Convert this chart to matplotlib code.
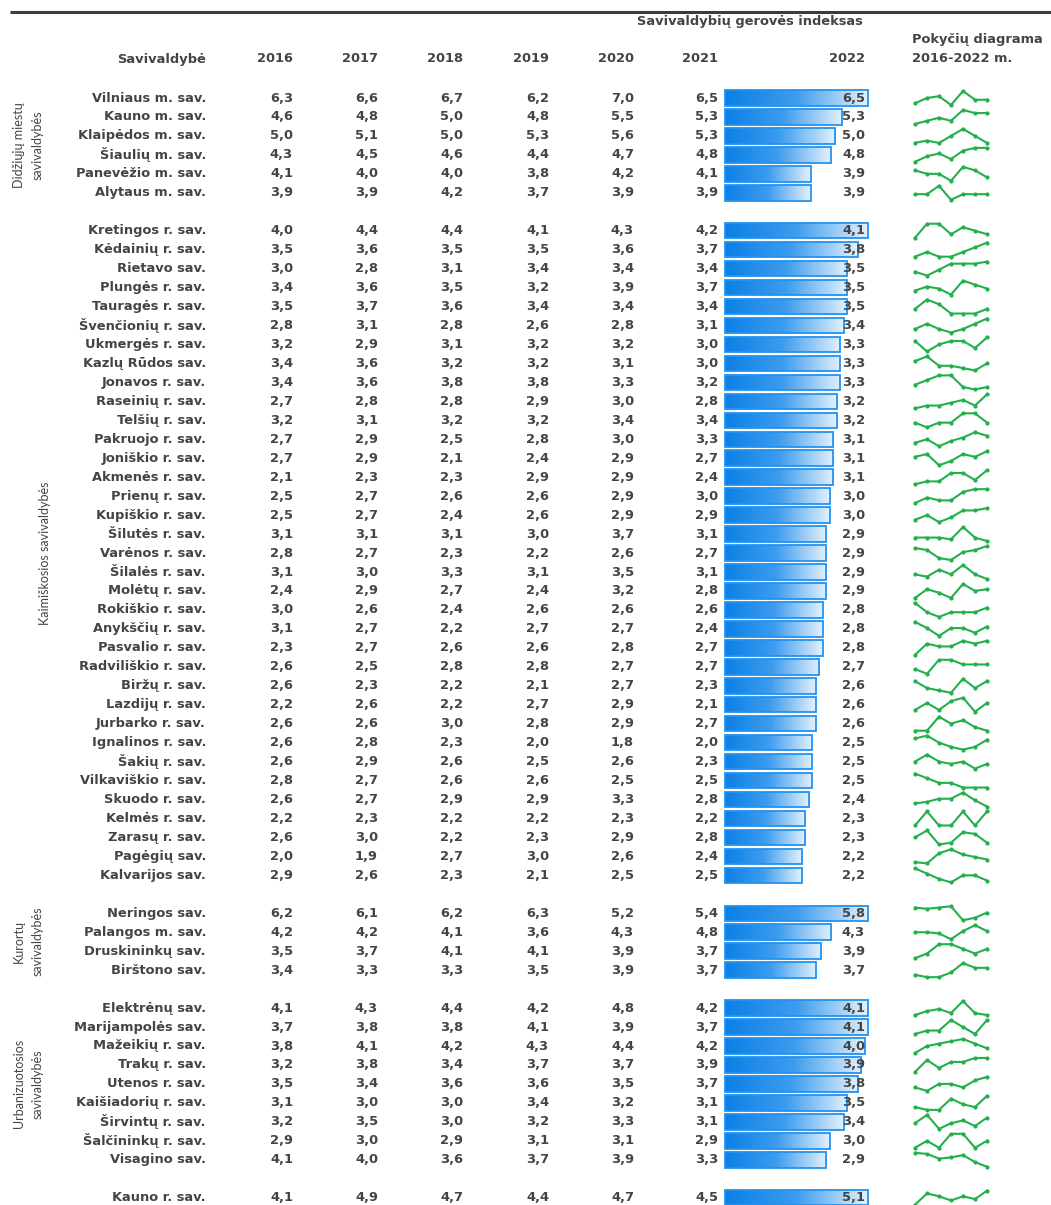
import numpy as np
import matplotlib
matplotlib.use("Agg")
import matplotlib.pyplot as plt
from matplotlib.colors import LinearSegmentedColormap

plt.rcParams['font.family'] = ['DejaVu Sans']

years = ["2016", "2017", "2018", "2019", "2020", "2021", "2022"]

# group labels (None = no label)
group_labels = [
    ["Didžiųjų miestų", "savivaldybės"],
    ["Kaimiškosios savivaldybės"],
    ["Kurortų", "savivaldybės"],
    ["Urbanizuotosios", "savivaldybės"],
    None,
]

big_cities_names = ["Vilniaus m. sav.", "Kauno m. sav.", "Klaipėdos m. sav.",
                    "Šiaulių m. sav.", "Panevėžio m. sav.", "Alytaus m. sav."]
big_cities_vals = [
    [6.3, 6.6, 6.7, 6.2, 7.0, 6.5, 6.5],
    [4.6, 4.8, 5.0, 4.8, 5.5, 5.3, 5.3],
    [5.0, 5.1, 5.0, 5.3, 5.6, 5.3, 5.0],
    [4.3, 4.5, 4.6, 4.4, 4.7, 4.8, 4.8],
    [4.1, 4.0, 4.0, 3.8, 4.2, 4.1, 3.9],
    [3.9, 3.9, 4.2, 3.7, 3.9, 3.9, 3.9],
]

rural_names = ["Kretingos r. sav.", "Kėdainių r. sav.", "Rietavo sav.", "Plungės r. sav.",
               "Tauragės r. sav.", "Švenčionių r. sav.", "Ukmergės r. sav.", "Kazlų Rūdos sav.",
               "Jonavos r. sav.", "Raseinių r. sav.", "Telšių r. sav.", "Pakruojo r. sav.",
               "Joniškio r. sav.", "Akmenės r. sav.", "Prienų r. sav.", "Kupiškio r. sav.",
               "Šilutės r. sav.", "Varėnos r. sav.", "Šilalės r. sav.", "Molėtų r. sav.",
               "Rokiškio r. sav.", "Anykščių r. sav.", "Pasvalio r. sav.", "Radviliškio r. sav.",
               "Biržų r. sav.", "Lazdijų r. sav.", "Jurbarko r. sav.", "Ignalinos r. sav.",
               "Šakių r. sav.", "Vilkaviškio r. sav.", "Skuodo r. sav.", "Kelmės r. sav.",
               "Zarasų r. sav.", "Pagėgių sav.", "Kalvarijos sav."]
rural_vals = [
    [4.0, 4.4, 4.4, 4.1, 4.3, 4.2, 4.1],
    [3.5, 3.6, 3.5, 3.5, 3.6, 3.7, 3.8],
    [3.0, 2.8, 3.1, 3.4, 3.4, 3.4, 3.5],
    [3.4, 3.6, 3.5, 3.2, 3.9, 3.7, 3.5],
    [3.5, 3.7, 3.6, 3.4, 3.4, 3.4, 3.5],
    [2.8, 3.1, 2.8, 2.6, 2.8, 3.1, 3.4],
    [3.2, 2.9, 3.1, 3.2, 3.2, 3.0, 3.3],
    [3.4, 3.6, 3.2, 3.2, 3.1, 3.0, 3.3],
    [3.4, 3.6, 3.8, 3.8, 3.3, 3.2, 3.3],
    [2.7, 2.8, 2.8, 2.9, 3.0, 2.8, 3.2],
    [3.2, 3.1, 3.2, 3.2, 3.4, 3.4, 3.2],
    [2.7, 2.9, 2.5, 2.8, 3.0, 3.3, 3.1],
    [2.7, 2.9, 2.1, 2.4, 2.9, 2.7, 3.1],
    [2.1, 2.3, 2.3, 2.9, 2.9, 2.4, 3.1],
    [2.5, 2.7, 2.6, 2.6, 2.9, 3.0, 3.0],
    [2.5, 2.7, 2.4, 2.6, 2.9, 2.9, 3.0],
    [3.1, 3.1, 3.1, 3.0, 3.7, 3.1, 2.9],
    [2.8, 2.7, 2.3, 2.2, 2.6, 2.7, 2.9],
    [3.1, 3.0, 3.3, 3.1, 3.5, 3.1, 2.9],
    [2.4, 2.9, 2.7, 2.4, 3.2, 2.8, 2.9],
    [3.0, 2.6, 2.4, 2.6, 2.6, 2.6, 2.8],
    [3.1, 2.7, 2.2, 2.7, 2.7, 2.4, 2.8],
    [2.3, 2.7, 2.6, 2.6, 2.8, 2.7, 2.8],
    [2.6, 2.5, 2.8, 2.8, 2.7, 2.7, 2.7],
    [2.6, 2.3, 2.2, 2.1, 2.7, 2.3, 2.6],
    [2.2, 2.6, 2.2, 2.7, 2.9, 2.1, 2.6],
    [2.6, 2.6, 3.0, 2.8, 2.9, 2.7, 2.6],
    [2.6, 2.8, 2.3, 2.0, 1.8, 2.0, 2.5],
    [2.6, 2.9, 2.6, 2.5, 2.6, 2.3, 2.5],
    [2.8, 2.7, 2.6, 2.6, 2.5, 2.5, 2.5],
    [2.6, 2.7, 2.9, 2.9, 3.3, 2.8, 2.4],
    [2.2, 2.3, 2.2, 2.2, 2.3, 2.2, 2.3],
    [2.6, 3.0, 2.2, 2.3, 2.9, 2.8, 2.3],
    [2.0, 1.9, 2.7, 3.0, 2.6, 2.4, 2.2],
    [2.9, 2.6, 2.3, 2.1, 2.5, 2.5, 2.2],
]

resort_names = ["Neringos sav.", "Palangos m. sav.", "Druskininkų sav.", "Birštono sav."]
resort_vals = [
    [6.2, 6.1, 6.2, 6.3, 5.2, 5.4, 5.8],
    [4.2, 4.2, 4.1, 3.6, 4.3, 4.8, 4.3],
    [3.5, 3.7, 4.1, 4.1, 3.9, 3.7, 3.9],
    [3.4, 3.3, 3.3, 3.5, 3.9, 3.7, 3.7],
]

urban_names = ["Elektrėnų sav.", "Marijampolės sav.", "Mažeikių r. sav.", "Trakų r. sav.",
               "Utenos r. sav.", "Kaišiadorių r. sav.", "Širvintų r. sav.",
               "Šalčininkų r. sav.", "Visagino sav."]
urban_vals = [
    [4.1, 4.3, 4.4, 4.2, 4.8, 4.2, 4.1],
    [3.7, 3.8, 3.8, 4.1, 3.9, 3.7, 4.1],
    [3.8, 4.1, 4.2, 4.3, 4.4, 4.2, 4.0],
    [3.2, 3.8, 3.4, 3.7, 3.7, 3.9, 3.9],
    [3.5, 3.4, 3.6, 3.6, 3.5, 3.7, 3.8],
    [3.1, 3.0, 3.0, 3.4, 3.2, 3.1, 3.5],
    [3.2, 3.5, 3.0, 3.2, 3.3, 3.1, 3.4],
    [2.9, 3.0, 2.9, 3.1, 3.1, 2.9, 3.0],
    [4.1, 4.0, 3.6, 3.7, 3.9, 3.3, 2.9],
]

other_names = ["Kauno r. sav."]
other_vals = [[4.1, 4.9, 4.7, 4.4, 4.7, 4.5, 5.1]]

groups = [
    (big_cities_names, big_cities_vals),
    (rural_names, rural_vals),
    (resort_names, resort_vals),
    (urban_names, urban_vals),
    (other_names, other_vals),
]

# ---- layout (pixel coordinates) ----
W, H = 1051, 1205
row0, row_h = 98, 18.96
col_right = [293, 378, 463, 549, 634, 718]
name_right = 206
bar_left, bar_full = 725, 143
val22_right = 865
spark_x0, spark_x1, spark_h = 915, 987, 14
txt = "#444444"
green = "#22B04C"
fs = 9.4

fig = plt.figure(figsize=(W / 100, H / 100), dpi=100)
ax = fig.add_axes([0, 0, 1, 1])
ax.set_axis_off()

cmap = LinearSegmentedColormap.from_list("bar", ["#0A80E6", "#3D9CEE", "#E3F1FD"])
grad = np.linspace(0, 1, 256).reshape(1, -1)

# header
ax.plot([10, W], [12, 12], color="#3c3c3c", lw=2.2, solid_capstyle="butt")
hdr = dict(va="center", fontsize=fs, fontweight="bold", color=txt)
ax.text(750, 21, "Savivaldybių gerovės indeksas", ha="center", **hdr)
ax.text(912, 40, "Pokyčių diagrama", ha="left", **hdr)
ax.text(912, 59, "2016-2022 m.", ha="left", **hdr)
ax.text(name_right, 59, "Savivaldybė", ha="right", **hdr)
for i, yr in enumerate(years[:-1]):
    ax.text(col_right[i], 59, yr, ha="right", **hdr)
ax.text(val22_right, 59, years[-1], ha="right", **hdr)

slot = 0
for gi, (names, vals) in enumerate(groups):
    arr = np.array(vals)
    ys = row0 + (slot + np.arange(len(names))) * row_h
    gmax = arr[:, -1].max()

    # bars for 2022, scaled to the group maximum
    bars = ax.barh(ys, arr[:, -1] / gmax * bar_full, left=bar_left, height=15.5,
                   facecolor="none", edgecolor="#2392F0", lw=1.3, zorder=3)
    for b in bars:
        x0, y0 = b.get_x(), b.get_y()
        im = ax.imshow(grad, cmap=cmap, aspect="auto", zorder=2,
                       extent=(x0, x0 + b.get_width(), y0, y0 + b.get_height()))
        im.set_clip_path(b)

    for r, (nm, row) in enumerate(zip(names, arr)):
        y = ys[r]
        ax.text(name_right, y, nm, ha="right", **hdr)
        for c in range(6):
            ax.text(col_right[c], y, f"{row[c]:.1f}".replace(".", ","), ha="right", **hdr)
        ax.text(val22_right, y, f"{row[6]:.1f}".replace(".", ","), ha="right",
                zorder=5, **hdr)

        # sparkline scaled to the row's own range
        lo, hi = row.min(), row.max()
        norm = (row - lo) / (hi - lo) if hi > lo else np.full(7, 0.5)
        sx = np.linspace(spark_x0, spark_x1, 7)
        sy = y + spark_h / 2 - norm * spark_h
        ax.plot(sx, sy, color=green, lw=1.5, marker="o", ms=2.0, zorder=4)

    lab = group_labels[gi]
    if lab is not None:
        yc = ys.mean()
        gl = dict(rotation=90, ha="center", va="center", fontsize=9,
                  color=txt, family=["Lato", "DejaVu Sans"])
        if len(lab) == 1:
            ax.text(45, yc, lab[0], **gl)
        else:
            ax.text(19, yc, lab[0], **gl)
            ax.text(38, yc, lab[1], **gl)

    slot += len(names) + 1

ax.set_xlim(0, W)
ax.set_ylim(H, 0)
fig.savefig("out.png", dpi=100)
